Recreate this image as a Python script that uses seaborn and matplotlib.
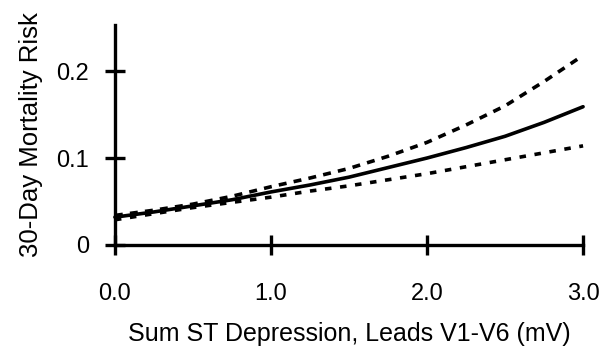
import matplotlib
matplotlib.use("Agg")
import matplotlib.pyplot as plt
import seaborn as sns
import pandas as pd

x_vals = [0.0, 0.25, 0.5, 0.75, 1.0, 1.25, 1.5, 1.75, 2.0, 2.25, 2.5, 2.75, 3.0]
risk = [0.032, 0.038, 0.045, 0.052, 0.061, 0.069, 0.078, 0.089, 0.100, 0.112, 0.125, 0.141, 0.159]
upper_ci = [0.034, 0.040, 0.047, 0.056, 0.067, 0.077, 0.088, 0.102, 0.118, 0.138, 0.160, 0.188, 0.218]
lower_ci = [0.029, 0.036, 0.043, 0.049, 0.055, 0.062, 0.068, 0.075, 0.082, 0.090, 0.098, 0.106, 0.114]
x_ticks = [0.0, 1.0, 2.0, 3.0]
x_tick_labels = ["0.0", "1.0", "2.0", "3.0"]
y_ticks = [0.0, 0.1, 0.2]
y_tick_labels = ["0", "0.1", "0.2"]

sns.set_style("white")
plt.rcParams["font.family"] = ["Liberation Sans", "DejaVu Sans"]

df = pd.DataFrame({"x": x_vals, "risk": risk, "upper": upper_ci, "lower": lower_ci})

fig = plt.figure(figsize=(6.08, 3.47), dpi=100)
ax = fig.add_axes([0.189, 0.294, 0.770, 0.634])

sns.lineplot(data=df, x="x", y="risk", ax=ax, color="black", lw=2.6, clip_on=False)
sns.lineplot(data=df, x="x", y="upper", ax=ax, color="black", lw=2.6, clip_on=False,
             dashes=False, linestyle=(0, (2.2, 2.0)))
sns.lineplot(data=df, x="x", y="lower", ax=ax, color="black", lw=2.6, clip_on=False,
             dashes=False, linestyle=(0, (1.8, 2.4)))

ax.set_xlim(0, 3.0)
ax.set_ylim(0, 0.253)
ax.set_xticks(x_ticks)
ax.set_xticklabels(x_tick_labels)
ax.set_yticks(y_ticks)
ax.set_yticklabels(y_tick_labels)

for s in ["top", "right"]:
    ax.spines[s].set_visible(False)
for s in ["left", "bottom"]:
    ax.spines[s].set_linewidth(2.4)
    ax.spines[s].set_color("black")

ax.tick_params(axis="both", direction="inout", length=15, width=2.4, colors="black",
               labelsize=17, labelcolor="black", bottom=True, left=True)
ax.tick_params(axis="x", pad=20)
ax.tick_params(axis="y", pad=11)

ax.set_xlabel("Sum ST Depression, Leads V1-V6 (mV)", fontsize=18, labelpad=12, color="black")
ax.set_ylabel("30-Day Mortality Risk", fontsize=18.5, labelpad=10, color="black")

fig.savefig("out.png", dpi=100)
